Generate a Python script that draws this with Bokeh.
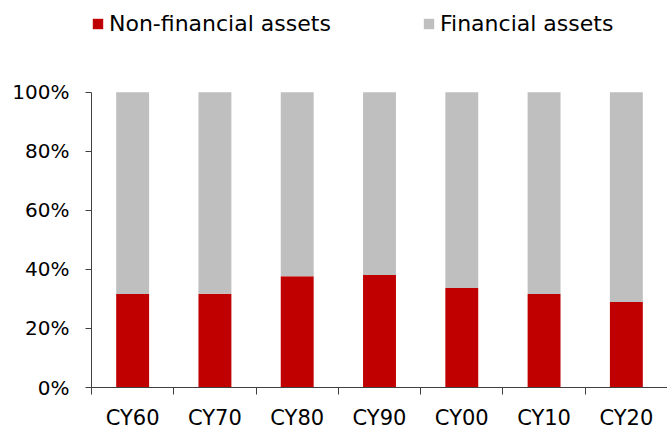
from bokeh.plotting import figure
from bokeh.models import (Range1d, FixedTicker, NumeralTickFormatter, Legend, LegendItem,
                          ColumnDataSource)
from bokeh.embed import file_html
from bokeh.resources import INLINE

categories = ["CY60", "CY70", "CY80", "CY90", "CY00", "CY10", "CY20"]
non_financial = [0.317, 0.318, 0.377, 0.381, 0.337, 0.317, 0.290]
financial = [0.683, 0.682, 0.623, 0.619, 0.663, 0.683, 0.710]
y_ticks = [0, 0.2, 0.4, 0.6, 0.8, 1.0]

RED = "#C00000"
GREY = "#BFBFBF"
FONT = "DejaVu Sans"

xpos = [i + 0.5 for i in range(len(categories))]
src = ColumnDataSource(dict(x=xpos, nf=non_financial, f=financial))

# frame spans the full height above the x axis; the extra headroom holds the legend
p = figure(width=667, height=432, output_backend="svg", toolbar_location=None,
           x_range=Range1d(0, len(categories)), y_range=Range1d(0, 1.311),
           min_border_left=91, min_border_right=0, min_border_top=0, min_border_bottom=44)
p.outline_line_color = None
p.xgrid.visible = False
p.ygrid.visible = False

rs = p.vbar_stack(["nf", "f"], x="x", width=0.4, color=[RED, GREY], line_color=None, source=src)

# x axis: labels at category centres, ticks at category boundaries
xa = p.xaxis[0]
xa.ticker = FixedTicker(ticks=xpos, minor_ticks=list(range(len(categories) + 1)))
xa.major_label_overrides = {x: c for x, c in zip(xpos, categories)}
xa.major_tick_out = 0
xa.major_tick_in = 0
xa.minor_tick_out = 7
xa.minor_tick_in = 0
xa.minor_tick_line_color = "#404040"
xa.axis_line_color = "#404040"
xa.major_label_text_font = FONT
xa.major_label_text_font_size = "21px"
xa.major_label_text_color = "black"
xa.major_label_standoff = 11

ya = p.yaxis[0]
ya.bounds = (0, 1)
ya.ticker = FixedTicker(ticks=y_ticks, minor_ticks=[])
ya.formatter = NumeralTickFormatter(format="0%")
ya.major_tick_out = 6
ya.major_tick_in = 0
ya.major_tick_line_color = "#404040"
ya.axis_line_color = "#404040"
ya.major_label_text_font = FONT
ya.major_label_text_font_size = "20px"
ya.major_label_text_color = "black"
ya.major_label_standoff = 16

def make_legend(label, renderer, xloc):
    lg = Legend(items=[LegendItem(label=label, renderers=[renderer])],
                location=(xloc, 351), orientation="horizontal",
                padding=0, margin=0, border_line_color=None, background_fill_alpha=0,
                glyph_width=13, glyph_height=13, label_height=26, label_standoff=5,
                label_text_font=FONT, label_text_font_size="22px", label_text_color="black")
    p.add_layout(lg, "center")

make_legend("Non-financial assets", rs[0], 0)
make_legend("Financial assets", rs[1], 331)

open("out.html", "w").write(file_html(p, INLINE))
